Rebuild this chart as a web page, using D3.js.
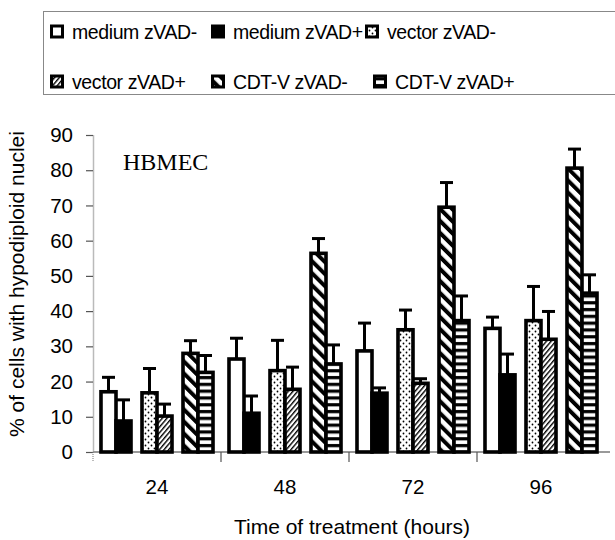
<!DOCTYPE html>
<html>
<head>
<meta charset="utf-8">
<script src="https://cdn.jsdelivr.net/npm/d3@7"></script>
<style>
  body { margin: 0; background: #fff; }
  svg { display: block; }
</style>
</head>
<body>
<div id="chart"></div>
<script>
"use strict";
// data
const times = ["24", "48", "72", "96"];
const seriesNames = ["medium zVAD-", "medium zVAD+", "vector zVAD-", "vector zVAD+", "CDT-V zVAD-", "CDT-V zVAD+"];
const mediumMinus = [17.1, 26.4, 28.7, 35.1];
const mediumPlus = [8.8, 11.0, 16.7, 21.9];
const vectorMinus = [16.8, 23.1, 34.7, 37.3];
const vectorPlus = [10.2, 17.8, 19.5, 32.0];
const cdtMinus = [28.0, 56.4, 69.5, 80.6];
const cdtPlus = [22.6, 25.0, 37.3, 45.1];
const mediumMinusErr = [4.1, 5.9, 7.9, 3.2];
const mediumPlusErr = [6.0, 4.9, 1.5, 5.9];
const vectorMinusErr = [6.9, 8.6, 5.6, 9.7];
const vectorPlusErr = [3.4, 6.3, 1.3, 7.9];
const cdtMinusErr = [3.6, 4.2, 7.0, 5.4];
const cdtPlusErr = [4.8, 5.4, 7.0, 5.2];
const yTicks = [0, 10, 20, 30, 40, 50, 60, 70, 80, 90];

const means = [mediumMinus, mediumPlus, vectorMinus, vectorPlus, cdtMinus, cdtPlus];
const errs = [mediumMinusErr, mediumPlusErr, vectorMinusErr, vectorPlusErr, cdtMinusErr, cdtPlusErr];
const fills = ["#fff", "#000", "url(#dots)", "url(#fine)", "url(#thick)", "url(#horiz)"];

const width = 615, height = 540;
const plot = { left: 93, right: 605, top: 135, bottom: 452 };
const font = "'Liberation Sans', Arial, sans-serif";

const svg = d3.select("#chart").append("svg")
    .attr("width", width)
    .attr("height", height);

// patterns
const defs = svg.append("defs");
const dots = defs.append("pattern").attr("id", "dots")
    .attr("patternUnits", "userSpaceOnUse").attr("width", 6).attr("height", 6);
dots.append("rect").attr("width", 6).attr("height", 6).attr("fill", "#fff");
dots.append("circle").attr("cx", 1.5).attr("cy", 1.5).attr("r", 0.9).attr("fill", "#000");
dots.append("circle").attr("cx", 4.5).attr("cy", 4.5).attr("r", 0.9).attr("fill", "#000");

const fine = defs.append("pattern").attr("id", "fine")
    .attr("patternUnits", "userSpaceOnUse").attr("width", 3.6).attr("height", 10)
    .attr("patternTransform", "rotate(40)");
fine.append("rect").attr("width", 3.6).attr("height", 10).attr("fill", "#fff");
fine.append("rect").attr("width", 1.4).attr("height", 10).attr("fill", "#000");

const thick = defs.append("pattern").attr("id", "thick")
    .attr("patternUnits", "userSpaceOnUse").attr("width", 8.5).attr("height", 10)
    .attr("patternTransform", "rotate(-45)");
thick.append("rect").attr("width", 8.5).attr("height", 10).attr("fill", "#fff");
thick.append("rect").attr("width", 4).attr("height", 10).attr("fill", "#000");

const horiz = defs.append("pattern").attr("id", "horiz")
    .attr("patternUnits", "userSpaceOnUse").attr("width", 10).attr("height", 6.8);
horiz.append("rect").attr("width", 10).attr("height", 6.8).attr("fill", "#fff");
horiz.append("rect").attr("y", 2).attr("width", 10).attr("height", 3.2).attr("fill", "#000");

// scales
const x0 = d3.scaleBand().domain(times).range([plot.left, plot.right]);
const xPair = d3.scaleBand().domain([0, 1, 2]).range([0, x0.bandwidth()])
    .paddingInner(0.268).paddingOuter(0.195);
const xBar = d3.scaleBand().domain([0, 1]).range([0, xPair.bandwidth()]);
const y = d3.scaleLinear().domain([0, 90]).range([plot.bottom, plot.top]);

// y axis
const yAxis = svg.append("g")
    .attr("transform", `translate(${plot.left},0)`)
    .call(d3.axisLeft(y).tickValues(yTicks).tickSize(7).tickSizeOuter(0).tickPadding(13));
yAxis.select(".domain").attr("stroke", "#777").attr("stroke-width", 1.5).attr("stroke-dasharray", "1,1");
yAxis.selectAll(".tick line").attr("stroke", "#555").attr("stroke-width", 1.2);
yAxis.selectAll(".tick text")
    .attr("font-family", font).attr("font-size", 20.5).attr("fill", "#000");

// x baseline and category separators
svg.append("line")
    .attr("x1", plot.left).attr("x2", 610)
    .attr("y1", plot.bottom).attr("y2", plot.bottom)
    .attr("stroke", "#999").attr("stroke-width", 2);
svg.append("line")
    .attr("x1", plot.left).attr("x2", plot.left)
    .attr("y1", plot.bottom).attr("y2", plot.bottom + 9)
    .attr("stroke", "#777").attr("stroke-dasharray", "1,1");
svg.selectAll(".sep")
    .data(times.slice(1))
    .enter().append("line")
    .attr("class", "sep")
    .attr("x1", d => x0(d)).attr("x2", d => x0(d))
    .attr("y1", plot.bottom).attr("y2", plot.bottom + 10)
    .attr("stroke", "#555").attr("stroke-width", 1.2);
svg.selectAll(".xlab")
    .data(times)
    .enter().append("text")
    .attr("class", "xlab")
    .attr("x", d => x0(d) + x0.bandwidth() / 2)
    .attr("y", 494)
    .attr("text-anchor", "middle")
    .attr("font-family", font).attr("font-size", 20.5)
    .text(d => d);

// bars
const barData = [];
times.forEach((t, ti) => {
    means.forEach((m, si) => {
        barData.push({ t, si, v: m[ti], e: errs[si][ti] });
    });
});
const barX = d => x0(d.t) + xPair(Math.floor(d.si / 2)) + xBar(d.si % 2);
const bw = xBar.bandwidth();

const err = svg.append("g").attr("stroke", "#000").attr("stroke-width", 3);
err.selectAll(".ev")
    .data(barData)
    .enter().append("line")
    .attr("x1", d => barX(d) + bw / 2).attr("x2", d => barX(d) + bw / 2)
    .attr("y1", d => y(d.v)).attr("y2", d => y(d.v + d.e));
err.selectAll(".ec")
    .data(barData)
    .enter().append("line")
    .attr("x1", d => barX(d) + 1).attr("x2", d => barX(d) + bw - 1)
    .attr("y1", d => y(d.v + d.e)).attr("y2", d => y(d.v + d.e));

svg.append("g").selectAll("rect")
    .data(barData)
    .enter().append("rect")
    .attr("x", d => barX(d))
    .attr("y", d => y(d.v))
    .attr("width", bw)
    .attr("height", d => y(0) - y(d.v))
    .attr("fill", d => fills[d.si])
    .attr("stroke", "#000")
    .attr("stroke-width", 3.6);

// in-plot label
svg.append("text")
    .attr("x", 123).attr("y", 170)
    .attr("font-family", "'Liberation Serif', 'Times New Roman', serif")
    .attr("font-size", 24)
    .text("HBMEC");

// axis titles
svg.append("text")
    .attr("transform", "translate(24,284) rotate(-90)")
    .attr("text-anchor", "middle")
    .attr("font-family", font).attr("font-size", 21)
    .text("% of cells with hypodiploid nuclei");
svg.append("text")
    .attr("x", 352).attr("y", 534)
    .attr("text-anchor", "middle")
    .attr("font-family", font).attr("font-size", 21)
    .text("Time of treatment (hours)");

// legend
svg.append("rect")
    .attr("x", 43.5).attr("y", 11.5)
    .attr("width", 590).attr("height", 83)
    .attr("fill", "none")
    .attr("stroke", "#888").attr("stroke-width", 1);
const legendRows = [[50, 211, 365], [50, 211, 373]];
const legendRowY = [32, 82];
const legendItem = svg.append("g").selectAll("g")
    .data(seriesNames)
    .enter().append("g")
    .attr("transform", (d, i) => `translate(${legendRows[Math.floor(i / 3)][i % 3]},${legendRowY[Math.floor(i / 3)]})`);
legendItem.append("rect")
    .attr("x", 1.5).attr("y", -6)
    .attr("width", 11).attr("height", 11)
    .attr("fill", (d, i) => fills[i])
    .attr("stroke", "#000").attr("stroke-width", 3);
legendItem.append("text")
    .attr("x", 22).attr("y", 7)
    .attr("font-family", font).attr("font-size", 19.5)
    .attr("letter-spacing", -0.4)
    .text(d => d);
</script>
</body>
</html>
